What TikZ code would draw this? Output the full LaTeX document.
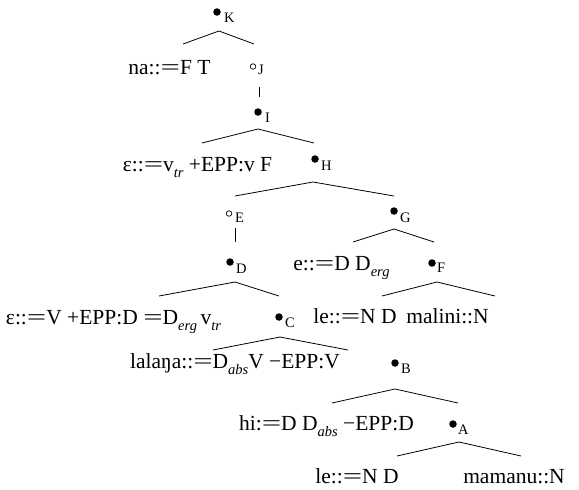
\documentclass[tikz,border=0pt]{standalone}
\usepackage{graphicx}
\usepackage{fontspec}
\setmainfont{Liberation Serif}
\newcommand\sbx[1]{\raisebox{-0.3em}{\fontsize{14.5}{15}\selectfont\itshape #1}}
\newcommand\eqx{\scalebox{1.6}[1]{=}}
\tikzset{
  fd/.style={circle,fill=black,inner sep=0pt,minimum size=7.5pt},
  od/.style={circle,draw=black,line width=0.7pt,inner sep=0pt,minimum size=5.5pt},
  lab/.style={inner sep=0pt,anchor=base west,font=\fontsize{14.5}{15}\selectfont},
  txt/.style={inner sep=0pt,anchor=base,font=\fontsize{21.5}{22}\selectfont},
  br/.style={line width=0.8pt},
}
\begin{document}
\begin{tikzpicture}[x=1pt,y=-1pt]
\useasboundingbox (0,0) rectangle (579,490);
% K
\node[fd] (K) at (217,12) {};
\node[lab] (Kl) at (224,22) {K};
\coordinate (Ka) at (219,31);
\coordinate (Kl1) at (183,44);
\coordinate (Kr1) at (254,44);
\draw[br] (Kl1) -- (Ka) -- (Kr1);
\node[txt] (na) at (169.5,74) {na::\eqx F T};
% J
\node[od] (J) at (253,66.5) {};
\node[lab] (Jl) at (258,74) {J};
\coordinate (Jv1) at (259,87);
\coordinate (Jv2) at (259,97);
\draw[br] (Jv1) -- (Jv2);
% I
\node[fd] (I) at (258,112) {};
\node[lab] (Il) at (265,122) {I};
\coordinate (Ia) at (258,129);
\coordinate (Il1) at (202,143);
\coordinate (Ir1) at (314,143);
\draw[br] (Il1) -- (Ia) -- (Ir1);
\node[txt] (epsF) at (197.5,171) {ε::\eqx v\sbx{tr} +EPP:v F};
% H
\node[fd] (H) at (315,159) {};
\node[lab] (Hl) at (321,170) {H};
\coordinate (Ha) at (313,182);
\coordinate (Hl1) at (235,196);
\coordinate (Hr1) at (394,196);
\draw[br] (Hl1) -- (Ha) -- (Hr1);
% E
\node[od] (E) at (229,213.5) {};
\node[lab] (El) at (235,222) {E};
\coordinate (Ev1) at (235,228);
\coordinate (Ev2) at (235,242);
\draw[br] (Ev1) -- (Ev2);
% D
\node[fd] (D) at (230,262) {};
\node[lab] (Dl) at (236,273) {D};
\coordinate (Da) at (235,282);
\coordinate (Dl1) at (159,296);
\coordinate (Dr1) at (279,296);
\draw[br] (Dl1) -- (Da) -- (Dr1);
\node[txt] (epsV) at (113.5,324) {ε::\eqx V +EPP:D \eqx D\sbx{erg}\,v\sbx{tr}};
% G
\node[fd] (G) at (394,211) {};
\node[lab] (Gl) at (400,222) {G};
\coordinate (Ga) at (394,229);
\coordinate (Gl1) at (353,242);
\coordinate (Gr1) at (434,242);
\draw[br] (Gl1) -- (Ga) -- (Gr1);
\node[txt] (eD) at (341.5,270) {e::\eqx D D\sbx{erg}};
% F
\node[fd] (F) at (432,263) {};
\node[lab] (Fl) at (437,272) {F};
\coordinate (Fa) at (437,282);
\coordinate (Fl1) at (382,296);
\coordinate (Fr1) at (495,296);
\draw[br] (Fl1) -- (Fa) -- (Fr1);
\node[txt] (le1) at (355,323) {le::\eqx N D};
\node[txt] (malini) at (447.5,323) {malini::N};
% C
\node[fd] (C) at (279,317) {};
\node[lab] (Cl) at (285,327) {C};
\coordinate (Ca) at (280,337);
\coordinate (Cl1) at (213,350);
\coordinate (Cr1) at (348,350);
\draw[br] (Cl1) -- (Ca) -- (Cr1);
\node[txt] (lalana) at (235,368) {lalaŋa::\eqx D\sbx{abs}V −EPP:V};
% B
\node[fd] (B) at (395,363) {};
\node[lab] (Bl) at (401,373) {B};
\coordinate (Ba) at (395,389);
\coordinate (Bl1) at (332,403);
\coordinate (Br1) at (458,403);
\draw[br] (Bl1) -- (Ba) -- (Br1);
\node[txt] (hi) at (326.5,430) {hi:\eqx D D\sbx{abs} −EPP:D};
% A
\node[fd] (A) at (453,424) {};
\node[lab] (Al) at (458,434) {A};
\coordinate (Aa) at (459,442);
\coordinate (Al1) at (397,456);
\coordinate (Ar1) at (521,456);
\draw[br] (Al1) -- (Aa) -- (Ar1);
\node[txt] (le2) at (357,483) {le::\eqx N D};
\node[txt] (mamanu) at (514,483) {mamanu::N};
\end{tikzpicture}
\end{document}
